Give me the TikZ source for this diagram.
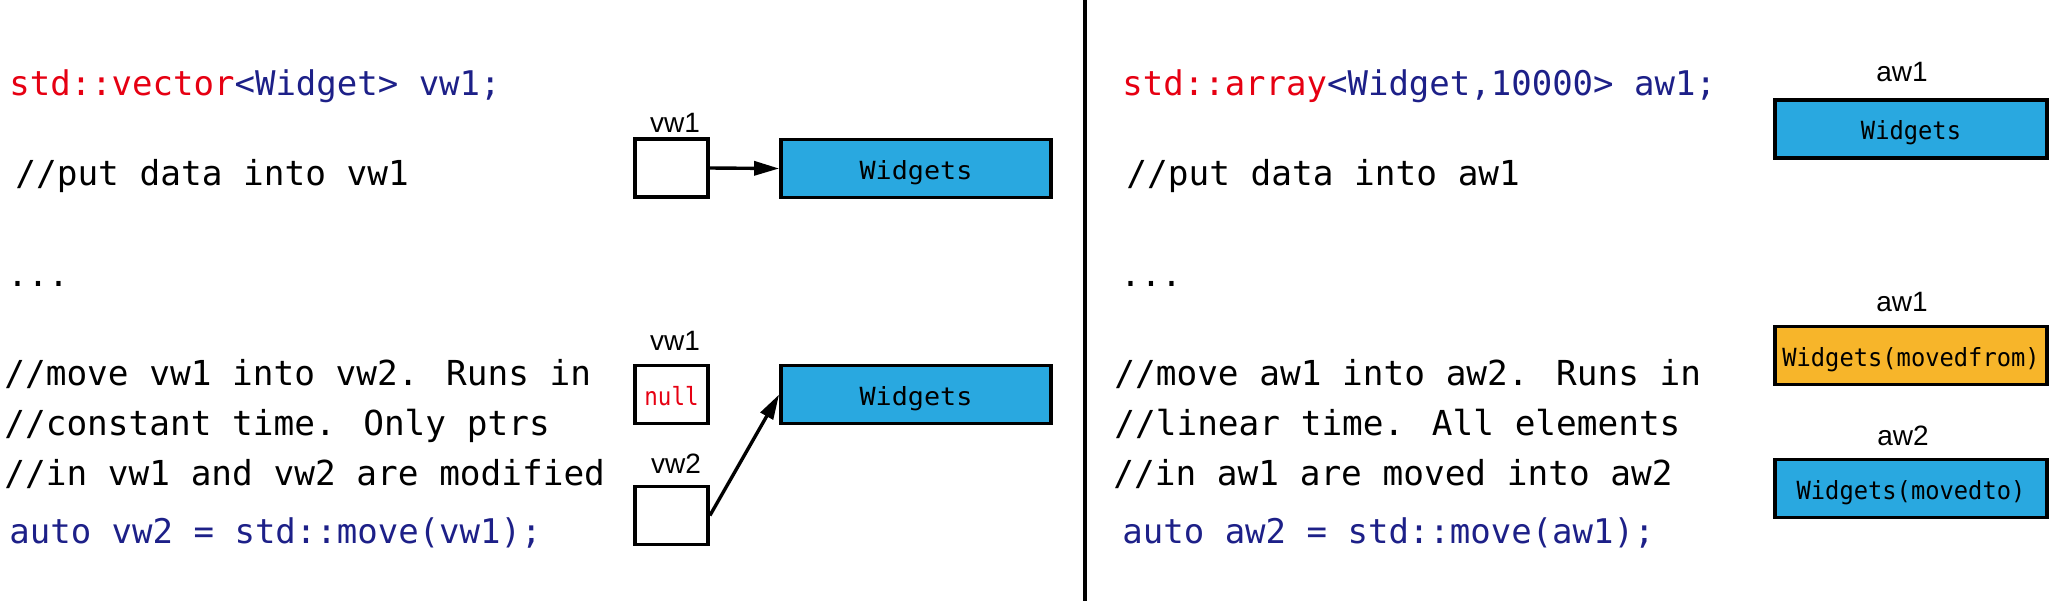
\documentclass[tikz,border=0pt]{standalone}
\usepackage{fontspec}
\usepackage{graphicx}
\usetikzlibrary{arrows.meta}
\newfontfamily\monof{DejaVu Sans Mono}
\newfontfamily\labf{Liberation Sans}
\definecolor{cred}{RGB}{230,0,18}
\definecolor{cnavy}{RGB}{29,32,136}
\definecolor{wblue}{RGB}{41,168,224}
\definecolor{worange}{RGB}{247,181,42}
\tikzset{
  cmt/.style={anchor=base west, inner sep=0pt, font=\monof\fontsize{17.2}{20}\selectfont},
  decl/.style={anchor=base west, inner sep=0pt, font=\monof\fontsize{17}{19}\selectfont},
  codeln/.style={anchor=base west, inner sep=0pt, text=cnavy, font=\monof\fontsize{17}{19}\selectfont},
  dots/.style={anchor=base west, inner sep=0pt, font=\monof\fontsize{17}{19}\selectfont},
  lbl/.style={anchor=base, inner sep=0pt, font=\labf\fontsize{14}{16}\selectfont},
  ptrbox/.style={draw, line width=1.9pt, fill=white, minimum width=36.5pt, minimum height=29pt, inner sep=0pt, text height=11.5pt, text depth=1pt, font=\monof\fontsize{12.5}{14}\selectfont},
  wbox/.style={draw, line width=1.9pt, fill=wblue, minimum width=135pt, minimum height=29pt, inner sep=0pt, text height=11.5pt, text depth=1pt, font=\monof\fontsize{12.5}{14}\selectfont},
  abox/.style={wbox, minimum width=136pt},
  arr/.style={line width=1.7pt, -{Triangle[length=12.5pt,width=7pt]}},
}
\begin{document}
\begin{tikzpicture}[x=0.5pt,y=-0.5pt]
\useasboundingbox (0,0) rectangle (2049,601);
% divider
\draw[line width=2pt] (1085,0) -- (1085,601);

% ---------- left ----------
\node[decl] (ld) at (9,95) {{\color{cred}std::vector}{\color{cnavy}<Widget> vw1;}};
\node[cmt] (lc1) at (15,185) {//put data into vw1};
\node[dots] (ldots) at (7,286) {...};
\node[cmt] (lm1) at (4,385) {//move vw1 into vw2. Runs in};
\node[cmt] (lm2) at (4,435) {//constant time. Only ptrs};
\node[cmt] (lm3) at (4,485) {//in vw1 and vw2 are modified};
\node[codeln] (la) at (9,543) {auto vw2 = std::move(vw1);};

\node[ptrbox] (p1) at (671.5,168) {};
\node[lbl] (p1l) at (675,132) {vw1};
\node[wbox] (w1) at (916,168.5) {\scalebox{1.07}[1]{Widgets}};
\draw[arr] (p1.east) -- (w1.west);

\node[ptrbox] (p2) at (671.5,394.5) {\scalebox{0.9}[1]{\color{cred}null}};
\node[lbl] (p2l) at (675,350) {vw1};
\node[wbox] (w2) at (916,394.5) {\scalebox{1.07}[1]{Widgets}};
\node[ptrbox] (p3) at (671.5,515.5) {};
\node[lbl] (p3l) at (676,473) {vw2};
\draw[arr] (p3.east) -- (w2.west);

% ---------- right ----------
\node[decl] (rd) at (1122,95) {{\color{cred}std::array}{\color{cnavy}<Widget,10000> aw1;}};
\node[cmt] (rc1) at (1126,185) {//put data into aw1};
\node[dots] (rdots) at (1120,286) {...};
\node[cmt] (rm1) at (1114,385) {//move aw1 into aw2. Runs in};
\node[cmt] (rm2) at (1114,435) {//linear time. All elements};
\node[cmt] (rm3) at (1113,485) {//in aw1 are moved into aw2};
\node[codeln] (ra) at (1122,543) {auto aw2 = std::move(aw1);};

\node[abox] (a1) at (1911,129) {\scalebox{0.95}[1]{Widgets}};
\node[lbl] (a1l) at (1902,81) {aw1};
\node[abox, fill=worange] (a2) at (1911,355.5) {\scalebox{0.95}[1]{Widgets(movedfrom)}};
\node[lbl] (a2l) at (1902,311) {aw1};
\node[abox] (a3) at (1911,488.5) {\scalebox{0.95}[1]{Widgets(movedto)}};
\node[lbl] (a3l) at (1903,445) {aw2};
\end{tikzpicture}
\end{document}
